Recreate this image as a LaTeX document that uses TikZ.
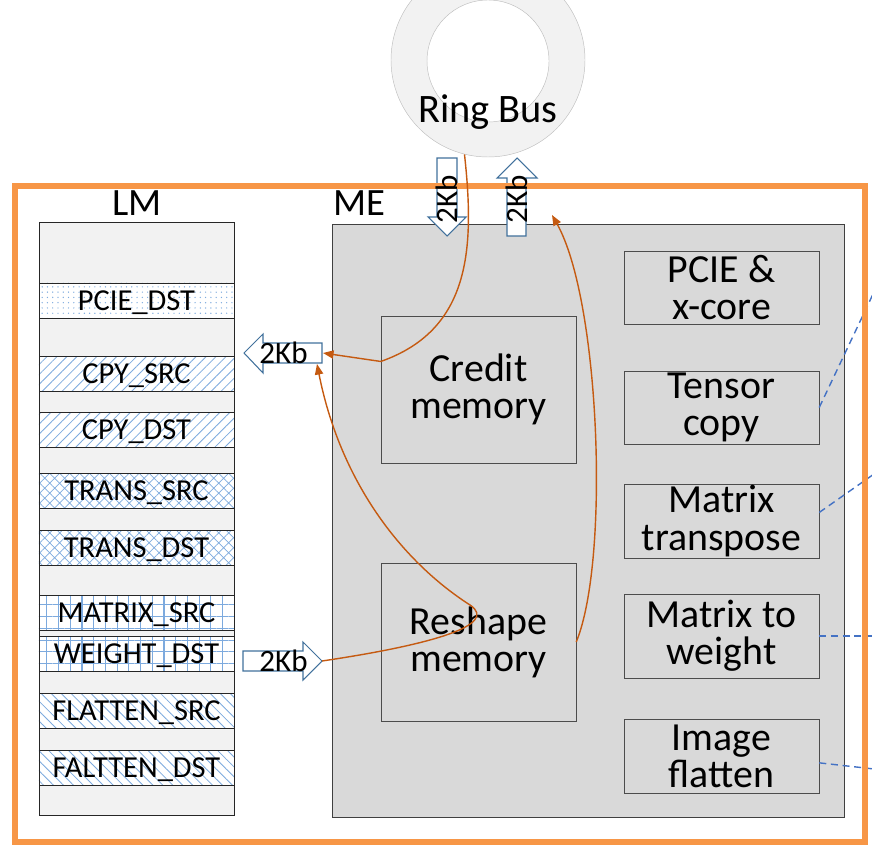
\documentclass[tikz,border=0pt]{standalone}
\usepackage{fontspec}
\setmainfont{Carlito}
\usepackage{tikz}
\usetikzlibrary{arrows.meta,patterns.meta,positioning}
\usepackage{xcolor}
\definecolor{meorange}{RGB}{247,150,70}
\definecolor{linkorange}{RGB}{197,90,17}
\definecolor{megray}{RGB}{217,217,217}
\definecolor{lmgray}{RGB}{242,242,242}
\definecolor{ringgray}{RGB}{191,191,191}
\definecolor{hatchblue}{RGB}{125,170,222}
\definecolor{arrowblue}{RGB}{65,113,156}
\definecolor{tapblue}{RGB}{68,114,196}
\tikzstyle{lmband} = [rectangle, minimum width=5.85cm, minimum height=1.05cm, inner sep=0pt, text depth=0pt, draw=black!85, preaction={fill=white}, pattern color=hatchblue, font=\fontsize{26}{26}\selectfont]
\tikzstyle{memblock} = [rectangle, minimum width=5.85cm, inner sep=0pt, align=center, draw=black!70, fill=megray, font=\fontsize{34}{31.6}\selectfont]
\tikzstyle{unitbox} = [rectangle, minimum width=5.85cm, inner sep=0pt, align=center, draw=black!70, fill=megray, font=\fontsize{34}{31.6}\selectfont]
\tikzstyle{blockarrow} = [draw=arrowblue, fill=white, line width=0.9pt]
\tikzstyle{kbtext} = [inner sep=0pt, text depth=0pt, font=\fontsize{26.5}{26.5}\selectfont]
\tikzstyle{title} = [anchor=base, font=\fontsize{33}{33}\selectfont]
\tikzstyle{link} = [line width=1.2pt, draw=linkorange, -{Triangle[length=9pt,width=7pt]}]
\tikzstyle{tap} = [line width=1.2pt, draw=tapblue, dash pattern=on 6pt off 4pt]

\begin{document}
\begin{tikzpicture}[x=0.03cm,y=-0.03cm]
\useasboundingbox (0,0) rectangle (872,851);

% Ring bus
\node[circle, minimum size=5.82cm, draw=ringgray, fill=lmgray] (ring) at (488,60) {};
\node[circle, minimum size=3.66cm, draw=ringgray, fill=white] (hole) at (488,61) {};
\node[title, font=\fontsize{34.5}{34.5}\selectfont] (ringlbl) at (488,123) {Ring Bus};

% LM column
\node[rectangle, inner sep=0pt, minimum width=5.85cm, minimum height=17.79cm, draw=black!85, fill=lmgray] (lm) at (136.5,518.5) {};
\node[title] (lmlbl) at (137,216) {LM};
\node[lmband, pattern={Dots[distance=4.5pt,radius=0.6pt]}] (pciedst) at (136.5,300.5) {PCIE\_DST};
\node[lmband, pattern={Lines[angle=45,distance=6pt,line width=0.7pt]}] (cpysrc) at (136.5,374) {CPY\_SRC};
\node[lmband, pattern={Lines[angle=45,distance=6pt,line width=0.7pt]}] (cpydst) at (136.5,430) {CPY\_DST};
\node[lmband, pattern={Hatch[angle=45,distance=6pt,line width=0.6pt]}] (transsrc) at (136.5,491) {TRANS\_SRC};
\node[lmband, pattern={Hatch[angle=45,distance=6pt,line width=0.6pt]}] (transdst) at (136.5,547.5) {TRANS\_DST};
\node[lmband, pattern={Hatch[angle=0,distance=10pt,line width=0.9pt]}] (matrixsrc) at (136.5,613) {MATRIX\_SRC};
\node[lmband, pattern={Hatch[angle=0,distance=10pt,line width=0.9pt]}] (weightdst) at (136.5,654) {WEIGHT\_DST};
\node[lmband, pattern={Lines[angle=-45,distance=6pt,line width=0.7pt]}] (flattensrc) at (136.5,710.5) {FLATTEN\_SRC};
\node[lmband, pattern={Lines[angle=-45,distance=6pt,line width=0.7pt]}] (flattendst) at (136.5,767.5) {FALTTEN\_DST};

% ME block
\node[rectangle, inner sep=0pt, minimum width=15.36cm, minimum height=17.79cm, draw=black!75, fill=megray] (me) at (588,520.5) {};
\node[title] (melbl) at (359,216) {ME};
\node[memblock, minimum height=4.41cm] (credit) at (478.5,389.5) {Credit\\memory};
\node[memblock, minimum height=4.74cm] (reshape) at (478.5,642) {Reshape\\memory};

% Units
\node[unitbox, minimum height=2.19cm] (pcie) at (721.5,287.5) {PCIE \&\\x-core};
\node[unitbox, minimum height=2.19cm] (tensor) at (721.5,407.5) {Tensor\\copy};
\node[unitbox, minimum height=2.22cm] (transpose) at (721.5,521) {Matrix\\transpose};
\node[unitbox, minimum height=2.52cm] (toweight) at (721.5,636) {Matrix to\\weight};
\node[unitbox, minimum height=2.22cm] (flatten) at (721.5,756) {Image\\flatten};

% Dashed taps to the right
\coordinate (tapA) at (874,292);
\coordinate (tapB) at (874,474);
\coordinate (tapC) at (874,636);
\coordinate (tapD) at (874,769);
\draw[tap] (tensor.east) -- (tapA);
\draw[tap] (transpose.5) -- (tapB);
\draw[tap] (toweight.east) -- (tapC);
\draw[tap] (flatten.-4) -- (tapD);

% 2Kb block arrows
\draw[blockarrow] (437,158) -- (457,158) -- (457,217) -- (466,217) -- (447,236) -- (428,217) -- (437,217) -- cycle;
\draw[blockarrow] (507,236) -- (526,236) -- (526,178) -- (537,178) -- (517,158) -- (497,178) -- (507,178) -- cycle;
\draw[blockarrow] (322,343) -- (322,363) -- (263,363) -- (263,373) -- (244,353) -- (263,334) -- (263,343) -- cycle;
\draw[blockarrow] (243,651) -- (303,651) -- (303,642) -- (322,661) -- (303,680) -- (303,671) -- (243,671) -- cycle;

% Outer frame
\draw[line width=5pt, draw=meorange] (15,186) rectangle (865,842);

\node[kbtext, rotate=90] (kbdown) at (447,199) {2Kb};
\node[kbtext, rotate=90] (kbup) at (517,199) {2Kb};
\node[kbtext] (kbout) at (283.5,353) {2Kb};
\node[kbtext] (kbin) at (283.5,661) {2Kb};

% Data paths
\coordinate (outtail) at (323,353);
\coordinate (outfoot) at (317,364);
\coordinate (intip) at (322,661);
\coordinate (uptarget) at (552,215);
\draw[link] (ring.-104) .. controls (475,250) and (470,330) .. (credit.164) -- (outtail);
\draw[link] (intip) .. controls (430,645) and (500,625) .. (470,605) .. controls (400,560) and (340,480) .. (outfoot);
\draw[link] (reshape.east) .. controls (610,560) and (600,300) .. (uptarget);
\end{tikzpicture}
\end{document}
